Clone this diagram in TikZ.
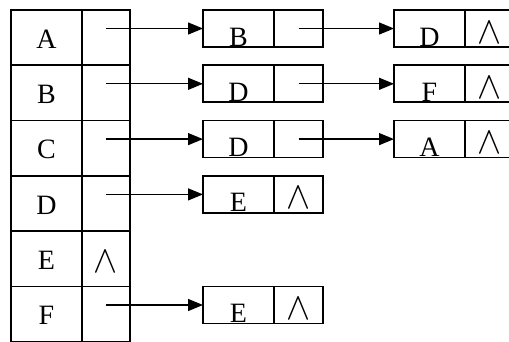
\documentclass[tikz,border=0pt]{standalone}
\usepackage{fontspec}
\setmainfont{Liberation Serif}
\usetikzlibrary{positioning,arrows.meta}
\newcommand{\nil}{\scalebox{1.45}[1.55]{$\wedge$}}

\begin{document}
\begin{tikzpicture}[line width=1.7pt, font=\fontsize{28}{32}\selectfont,
  cell/.style={rectangle, draw, inner sep=0pt, outer sep=0pt},
  key/.style={cell, minimum width=71pt, minimum height=55.3pt, text height=21pt, text depth=0pt},
  ptr/.style={cell, minimum width=48pt, minimum height=55.3pt, text height=28pt, text depth=0pt},
  val/.style={cell, minimum width=71pt, minimum height=37pt, text height=35pt, text depth=0pt},
  nxt/.style={cell, minimum width=49pt, minimum height=37pt, text height=29pt, text depth=0pt},
  link/.style={-{Triangle[length=15pt, width=12pt]}, line width=1.3pt}]

  \useasboundingbox (0,0) rectangle (509pt,-341pt);

  % head table
  \node[key, anchor=north west] (kA) at (11pt,-10pt) {A};
  \node[key, below=0pt of kA] (kB) {B};
  \node[key, below=0pt of kB] (kC) {C};
  \node[key, below=0pt of kC] (kD) {D};
  \node[key, below=0pt of kD] (kE) {E};
  \node[key, below=0pt of kE] (kF) {F};
  \foreach \v in {A,B,C,D,F}
    \node[ptr, right=0pt of k\v] (p\v) {};
  \node[ptr, right=0pt of kE] (pE) {\nil};

  % first nodes
  \node[val, right=73pt of pA.north east, anchor=north west] (a1) {B};
  \node[nxt, right=0pt of a1] (a1p) {};
  \node[val, right=73pt of pB.north east, anchor=north west] (b1) {D};
  \node[nxt, right=0pt of b1] (b1p) {};
  \node[val, right=73pt of pC.north east, anchor=north west] (c1) {D};
  \node[nxt, right=0pt of c1] (c1p) {};
  \node[val, right=73pt of pD.north east, anchor=north west] (d1) {E};
  \node[nxt, right=0pt of d1] (d1p) {\nil};
  \node[val, right=73pt of pF.north east, anchor=north west] (f1) {E};
  \node[nxt, right=0pt of f1] (f1p) {\nil};

  % second nodes
  \node[val, right=71pt of a1p.north east, anchor=north west] (a2) {D};
  \node[nxt, right=0pt of a2] (a2p) {\nil};
  \node[val, right=71pt of b1p.north east, anchor=north west] (b2) {F};
  \node[nxt, right=0pt of b2] (b2p) {\nil};
  \node[val, right=71pt of c1p.north east, anchor=north west] (c2) {A};
  \node[nxt, right=0pt of c2] (c2p) {\nil};

  \draw[link] (pA.center |- a1) -- (a1);
  \draw[link] (pB.center |- b1) -- (b1);
  \draw[link] (pC.center |- c1) -- (c1);
  \draw[link] (pD.center |- d1) -- (d1);
  \draw[link] (pF.center |- f1) -- (f1);
  \draw[link] (a1p.center) -- (a2);
  \draw[link] (b1p.center) -- (b2);
  \draw[link] (c1p.center) -- (c2);
\end{tikzpicture}
\end{document}
